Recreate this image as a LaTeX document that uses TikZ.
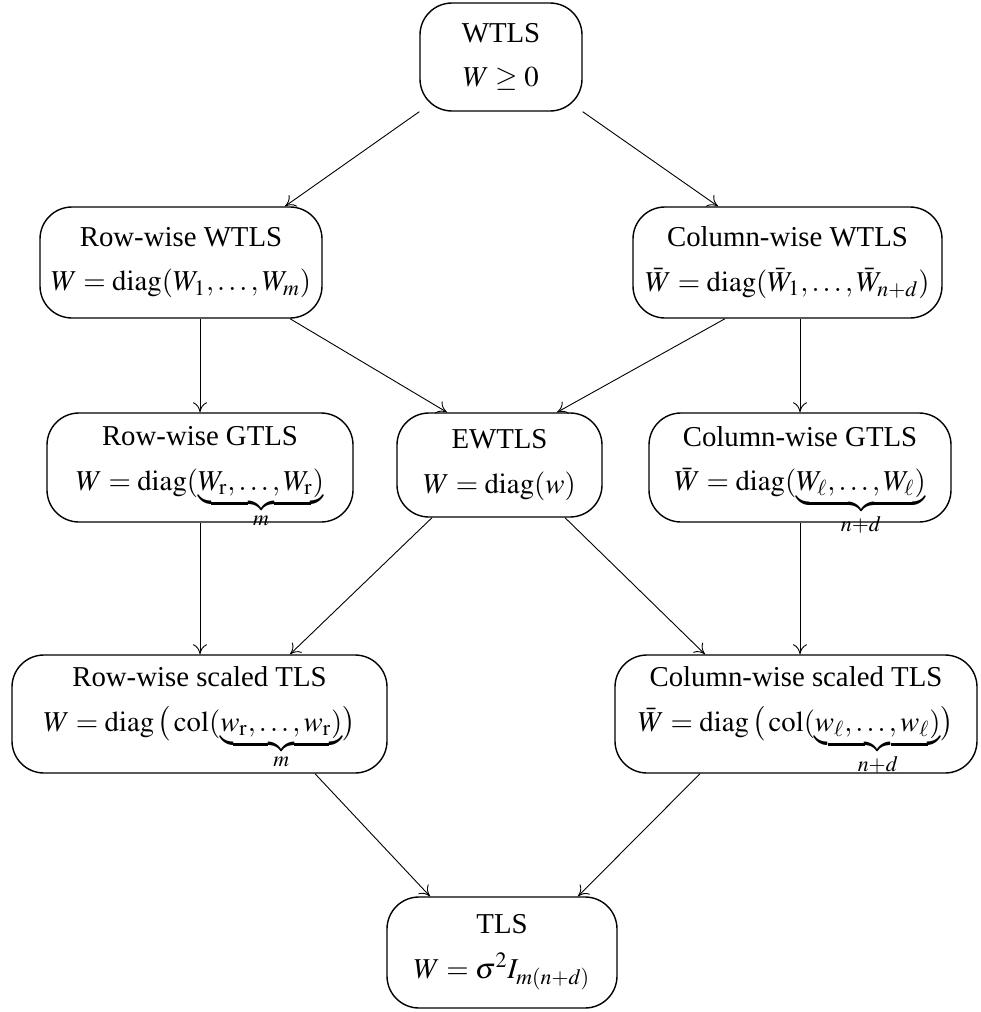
\documentclass[tikz,border=0pt]{standalone}
\usepackage{amsmath}
\usepackage{mathptmx}
\usepackage{fontspec}
\setmainfont{Liberation Serif}
\usetikzlibrary{arrows.meta}
\newcommand{\ubr}[2]{\smash{\underbrace{\smash[b]{#1}\rule[-2.6pt]{0pt}{2.6pt}}_{\raisebox{3.5pt}{$\scriptstyle #2$}}}}
\newcommand{\xdepth}[1]{\rule[-#1]{0pt}{#1}}
\begin{document}
\begin{tikzpicture}[x=0.5pt,y=-0.5pt,
  box/.style={draw, line width=0.7pt, rounded corners=16pt, align=center,
    inner sep=0pt, font=\fontsize{14.4}{17.3}\selectfont},
  conn/.style={-{To[length=5pt,width=7pt]}, line width=0.45pt}]
\useasboundingbox (0,0) rectangle (980,1012);
\node[box, minimum width=81pt, minimum height=54pt] (wtls) at (501,57)
  {WTLS\\[5pt] $W\geq 0$};
\node[box, minimum width=141pt, minimum height=55.5pt] (rw) at (181,262.5)
  {Row-wise WTLS\\[5pt] $W=\mathrm{diag}(W_1,\dots,W_m)$};
\node[box, minimum width=154.5pt, minimum height=55.5pt] (cw) at (787.5,262.5)
  {Column-wise WTLS\\[5pt] $\bar W=\mathrm{diag}(\bar W_1,\dots,\bar W_{n+d})$};
\node[box, minimum width=153pt, minimum height=54.5pt] (rg) at (200,467.5)
  {Row-wise GTLS\\[5pt] $W=\mathrm{diag}(\ubr{W_{\mathrm{r}},\dots,W_{\mathrm{r}})}{m}$\xdepth{9pt}};
\node[box, minimum width=102.5pt, minimum height=52pt] (ew) at (499.5,465)
  {EWTLS\\[5pt] $W=\mathrm{diag}(w)$};
\node[box, minimum width=151pt, minimum height=54.5pt] (cg) at (800,467.5)
  {Column-wise GTLS\\[5pt] $\bar W=\mathrm{diag}(\ubr{W_{\ell},\dots,W_{\ell})}{n+d}$\xdepth{9pt}};
\node[box, minimum width=187.5pt, minimum height=59pt] (rs) at (199.5,714)
  {Row-wise scaled TLS\\[5pt] $W=\mathrm{diag}\,\bigl(\,\mathrm{col}(\ubr{w_{\mathrm{r}},\dots,w_{\mathrm{r}})}{m}\bigr)$\xdepth{15pt}};
\node[box, minimum width=181pt, minimum height=59pt] (cs) at (796,714)
  {Column-wise scaled TLS\\[5pt] $\bar W=\mathrm{diag}\,\bigl(\,\mathrm{col}(\ubr{w_{\ell},\dots,w_{\ell})}{n+d}\bigr)$\xdepth{15pt}};
\node[box, minimum width=115pt, minimum height=55.5pt] (tls) at (502,952.5)
  {TLS\\[5pt] $W=\sigma^2 I_{m(n+d)}$};
\draw[conn] (wtls.south west) -- ([xshift=52pt]rw.north);
\draw[conn] (wtls.south east) -- ([xshift=-34.75pt]cw.north);
\draw[conn] ([xshift=9.5pt]rw.south) -- (rg.north);
\draw[conn] ([xshift=54.5pt]rw.south) -- ([xshift=-26.25pt]ew.north);
\draw[conn] ([xshift=-31.25pt]cw.south) -- ([xshift=28.75pt]ew.north);
\draw[conn] ([xshift=6.25pt]cw.south) -- (cg.north);
\draw[conn] (rg.south) -- (rg.south |- rs.north);
\draw[conn] ([xshift=-33.75pt]ew.south) -- ([xshift=45.25pt]rs.north);
\draw[conn] ([xshift=32.75pt]ew.south) -- ([xshift=-45.5pt]cs.north);
\draw[conn] (cg.south) -- (cg.south |- cs.north);
\draw[conn] ([xshift=57.75pt]rs.south) -- ([xshift=-36pt]tls.north);
\draw[conn] ([xshift=-48pt]cs.south) -- ([xshift=38pt]tls.north);
\end{tikzpicture}
\end{document}
